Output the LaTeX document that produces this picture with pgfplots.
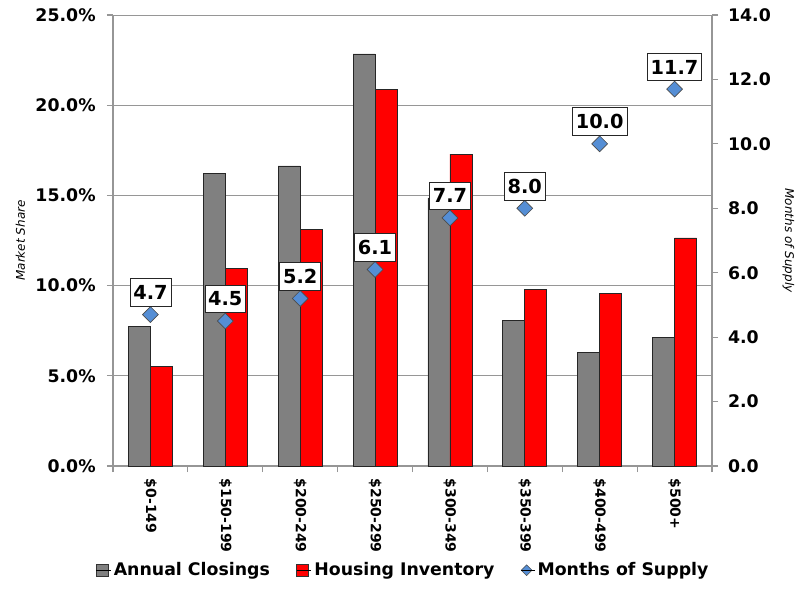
\documentclass[border=0pt]{standalone}
\usepackage{pgfplots}
\pgfplotsset{compat=1.18}
\usepackage{fontspec}
\setmainfont{DejaVu Sans}
\definecolor{gridgray}{RGB}{150,150,150}
\definecolor{barGray}{RGB}{128,128,128}
\definecolor{mblue}{RGB}{85,142,213}
\pgfplotsset{/pgf/number format/assume math mode=true}
\begin{document}
\begin{tikzpicture}
\useasboundingbox (0,0) rectangle (599.25pt,441.75pt);
\begin{axis}[
  at={(84.75pt,92.25pt)}, anchor=south west,
  scale only axis, width=449.25pt, height=338.25pt,
  xmin=-0.5, xmax=7.5, ymin=0, ymax=25,
  axis x line*=bottom, axis y line*=left,
  axis line style={-, gridgray, line width=0.8pt},
  tick align=outside,
  major tick length=4.5pt, minor tick length=4.5pt,
  ytick={0,5,10,15,20,25},
  ymajorgrids, grid style={gridgray, line width=0.7pt},
  yticklabel={\pgfmathprintnumber[fixed,fixed zerofill,precision=1]{\tick}\%},
  yticklabel style={font=\bfseries\fontsize{13}{15}\selectfont, xshift=-5pt},
  ytick style={gridgray, line width=0.8pt},
  xtick={0,...,7},
  xticklabels={\$0-149,\$150-199,\$200-249,\$250-299,\$300-349,\$350-399,\$400-499,\$500+},
  major x tick style={draw=none},
  minor xtick={-0.5,0.5,...,7.5},
  minor x tick style={gridgray, line width=0.8pt},
  x tick label style={rotate=-90, anchor=west, font=\bfseries\fontsize{10.5}{12}\selectfont, xshift=1.5pt},
  ylabel={Market Share},
  ylabel style={font=\itshape\fontsize{9}{11}\selectfont, yshift=1pt},
]
\addplot[ybar, bar width=16.5pt, bar shift=-8.25pt, fill=barGray, draw=black!85, line width=0.5pt]
  coordinates {(0,7.72) (1,16.22) (2,16.63) (3,22.84) (4,14.86) (5,8.06) (6,6.30) (7,7.13)};
\addplot[ybar, bar width=16.5pt, bar shift=8.25pt, fill=red, draw=black!85, line width=0.5pt]
  coordinates {(0,5.50) (1,10.96) (2,13.12) (3,20.88) (4,17.29) (5,9.79) (6,9.57) (7,12.64)};
\end{axis}
\begin{axis}[
  at={(84.75pt,92.25pt)}, anchor=south west,
  scale only axis, width=449.25pt, height=338.25pt,
  xmin=-0.5, xmax=7.5, ymin=0, ymax=14,
  axis x line=none, axis y line*=right,
  axis line style={-, gridgray, line width=0.8pt},
  tick align=outside, major tick length=4.5pt,
  ytick={0,2,...,14},
  ytick style={gridgray, line width=0.8pt},
  yticklabel={\pgfmathprintnumber[fixed,fixed zerofill,precision=1]{\tick}},
  yticklabel style={font=\bfseries\fontsize{13}{15}\selectfont, xshift=4pt},
  ylabel={Months of Supply},
  ylabel style={font=\itshape\fontsize{9}{11}\selectfont, rotate=180, yshift=2pt},
  legend columns=3,
  legend style={at={(0.485,-0.231)}, anchor=center, draw=none, fill=none,
    font=\bfseries\fontsize{13}{15}\selectfont,
    /tikz/every even column/.append style={column sep=18pt},
    inner sep=0pt},
]
\addlegendimage{legend image code/.code={\draw[fill=barGray, draw=black!80] (0pt,-4.5pt) rectangle (9pt,4.5pt); \path (0pt,0pt) -- (11pt,0pt);}}
\addlegendentry{Annual Closings}
\addlegendimage{legend image code/.code={\draw[fill=red, draw=black!80] (0pt,-4.5pt) rectangle (9pt,4.5pt); \path (0pt,0pt) -- (11pt,0pt);}}
\addlegendentry{Housing Inventory}
\addlegendimage{legend image code/.code={\draw[fill=mblue, draw=black!70] (4pt,-4pt) -- (8pt,0pt) -- (4pt,4pt) -- (0pt,0pt) -- cycle; \path (0pt,0pt) -- (10pt,0pt);}}
\addlegendentry{Months of Supply}
\addplot[only marks, mark=square*, mark size=4.2pt,
  mark options={rotate=45, fill=mblue, draw=black!70, line width=0.5pt},
  nodes near coords={\pgfmathprintnumber[fixed,fixed zerofill,precision=1]{\pgfplotspointmeta}},
  every node near coord/.append style={draw=black!85, fill=white, line width=0.5pt,
    font=\bfseries\fontsize{14.5}{16}\selectfont, inner xsep=2.5pt, inner ysep=5pt,
    anchor=south, yshift=6pt},
  forget plot]
  coordinates {(0,4.7) (1,4.5) (2,5.2) (3,6.1) (4,7.7) (5,8.0) (6,10.0) (7,11.7)};
\end{axis}
\end{tikzpicture}
\end{document}
